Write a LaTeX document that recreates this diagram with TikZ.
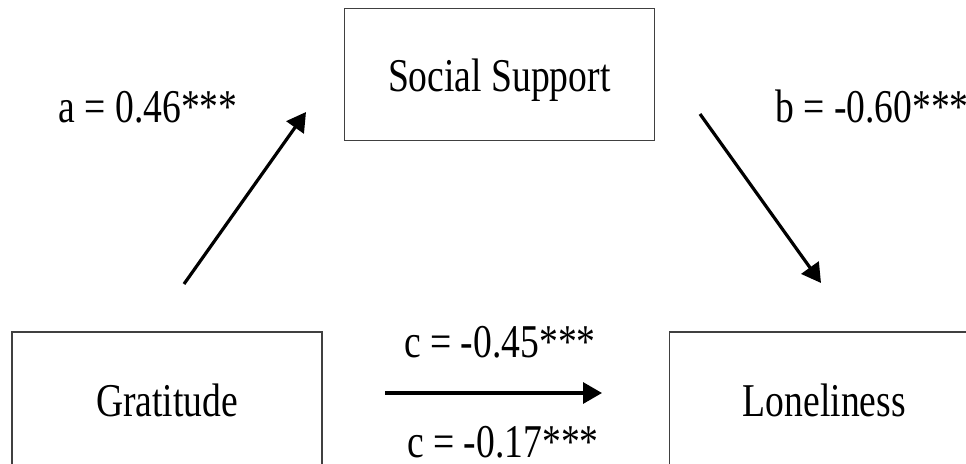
\documentclass[tikz,border=0pt]{standalone}
\usepackage{fontspec}
\setmainfont[FakeStretch=0.8]{Liberation Serif}
\usetikzlibrary{positioning,arrows.meta}

\begin{document}
\begin{tikzpicture}[x=1pt,y=-1pt,
  varbox/.style={draw=black!75,line width=1.3pt,minimum width=310pt,
    minimum height=132pt,inner sep=0pt,text height=34pt,text depth=0pt,
    font=\fontsize{47}{56}\selectfont},
  openbox/.style={minimum height=148pt,text height=20pt},
  coef/.style={inner sep=0pt,anchor=base,font=\fontsize{47}{56}\selectfont},
  effect/.style={line width=3.2pt,-{Triangle[length=19pt,width=21pt]}}]

  \clip (0,0) rectangle (966,463);

  \node[varbox,openbox] (grat) at (167,406) {Gratitude};
  \node[varbox,openbox,right=346pt of grat] (lone) {Loneliness};
  \node[varbox,above right=190pt and 21pt of grat] (supp) {Social Support};

  % ends of the paths
  \coordinate (a0) at (184,284);
  \coordinate (a1) at (306,112);
  \coordinate (b0) at (700,114);
  \coordinate (b1) at (821,283);
  \coordinate (c0) at (385,393);
  \coordinate (c1) at (602,393);

  \draw[effect] (a0) -- (a1);
  \draw[effect] (b0) -- (b1);
  \draw[effect] (c0) -- (c1);

  % path coefficients
  \node[coef] (acoef) at (148,122) {a = 0.46***};
  \node[coef] (bcoef) at (872,122) {b = -0.60***};
  \node[coef] (ccoef) at (500,357) {c = -0.45***};
  \node[coef] (cpcoef) at (503,457) {c = -0.17***};

\end{tikzpicture}
\end{document}
